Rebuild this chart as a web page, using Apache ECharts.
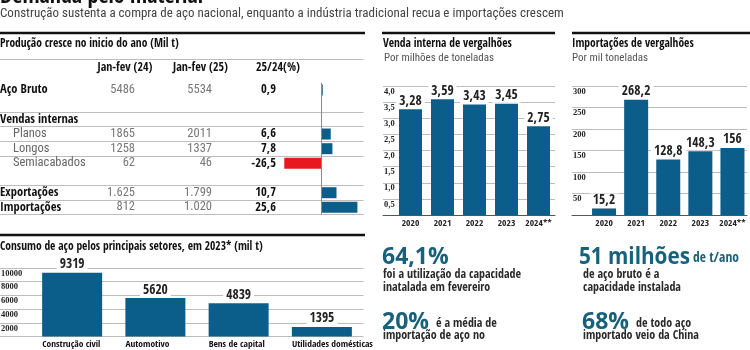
<!DOCTYPE html>
<html>
<head>
<meta charset="utf-8">
<script src="https://cdn.jsdelivr.net/npm/echarts@6/dist/echarts.min.js"></script>
<style>
  html, body { margin: 0; padding: 0; background: #fff; }
  #chart { width: 750px; height: 350px; }
</style>
</head>
<body>
<div id="chart"></div>
<script>
// tabela: produção jan-fev (mil t)
const tableRows = ['Aço Bruto', '', 'Vendas internas', 'Planos', 'Longos', 'Semiacabados', '', 'Exportações', 'Importações'];
const subRows = ['Planos', 'Longos', 'Semiacabados'];
const tableHeaders = ['Jan-fev (24)', 'Jan-fev (25)', '25/24(%)'];
const janFev24 = ['5486', '', '', '1865', '1258', '62', '', '1.625', '812'];
const janFev25 = ['5534', '', '', '2011', '1337', '46', '', '1.799', '1.020'];
const change = [0.9, null, null, 6.6, 7.8, -26.5, null, 10.7, 25.6];

// consumo de aço por setor, 2023 (mil t)
const sectors = ['Construção civil', 'Automotivo', 'Bens de capital', 'Utilidades domésticas'];
const sectorValues = [9319, 5620, 4839, 1395];

// vergalhões
const years = ['2020', '2021', '2022', '2023', '2024**'];
const rebarSales = [3.28, 3.59, 3.43, 3.45, 2.75];
const rebarImports = [15.2, 268.2, 128.8, 148.3, 156];

const BOLD = '"Open Sans Condensed", "Roboto Condensed", sans-serif';
const REG = '"Roboto Condensed", sans-serif';
const SERIF = '"Liberation Serif", "DejaVu Serif", serif';
const BLUE = '#0c5e8a';
const RED = '#e8191e';
const TEAL = '#17617c';
const GRID_GRAY = '#bdbdbd';

const comma = (v) => String(v).replace('.', ',');

const chart = echarts.init(document.getElementById('chart'));

// eixos auxiliares
const hiddenValueX = (gridIndex, line) => ({
  type: 'value', gridIndex, min: 0, max: 1,
  axisLine: { show: !!line, onZero: false, lineStyle: { color: line || '#000', width: 1 } },
  axisTick: { show: false }, axisLabel: { show: false }, splitLine: { show: false }
});
const linesY = (gridIndex, max, interval, fmt) => ({
  type: 'value', gridIndex, min: 0, max, interval,
  axisLine: { show: false }, axisTick: { show: false },
  axisLabel: {
    inside: true, margin: 1, showMinLabel: false, verticalAlign: 'top',
    padding: [1, 0, 0, 0],
    color: '#222', fontFamily: SERIF, fontWeight: 'bold', fontSize: 8.5,
    formatter: fmt
  },
  splitLine: { lineStyle: { color: GRID_GRAY, width: 1 } }
});
const hiddenY = (gridIndex, max) => ({ type: 'value', gridIndex, min: 0, max, show: false });
const yearAxis = (gridIndex) => ({
  type: 'category', gridIndex, data: years,
  axisLine: { show: false }, axisTick: { show: false },
  axisLabel: { interval: 0, margin: 4, color: '#222', fontFamily: BOLD, fontWeight: 'bold', fontSize: 9.5 }
});
const valueLabel = (fmt) => ({
  show: true, position: 'top', distance: 1,
  fontFamily: BOLD, fontWeight: 'bold', fontSize: 13.5, color: '#222',
  backgroundColor: '#fff', padding: [0, 3], formatter: fmt
});
const tableCol = (values, edge, style) => ({
  type: 'category', gridIndex: 0, data: tableRows, inverse: true, position: 'left',
  axisLine: { show: false }, axisTick: { show: false }, splitLine: { show: false },
  axisLabel: Object.assign({ interval: 0, margin: -edge, align: 'right',
    formatter: (v, i) => values[i] == null ? '' : String(values[i]) }, style)
});

const txt = (text, x, y, style, extra) => Object.assign({
  type: 'text', x, y, silent: true,
  style: Object.assign({ text, fill: '#111', fontFamily: REG, verticalAlign: 'middle' }, style)
}, extra || {});
const hline = (x1, x2, y, color, w) => ({
  type: 'line', silent: true,
  shape: { x1, y1: y, x2, y2: y }, style: { stroke: color, lineWidth: w }
});

const titleStyle = { fontFamily: BOLD, fontWeight: 'bold', fontSize: 11.5 };
const headStyle = { fontFamily: BOLD, fontWeight: 'bold', fontSize: 12, align: 'center' };
const noteStyle = { fill: '#555', fontSize: 11 };
const bigStyle = { fill: TEAL, fontFamily: '"Open Sans", sans-serif', fontWeight: 'bold', fontSize: 23 };
const bodyStyle = { fill: '#2a2a2a', fontFamily: BOLD, fontWeight: 'bold', fontSize: 12, lineHeight: 13.5, verticalAlign: 'top' };
const midStyle = { fill: '#2a2a2a', fontFamily: BOLD, fontWeight: 'bold', fontSize: 12 };

const option = {
  animation: false,
  backgroundColor: '#fff',
  grid: [
    { left: 0, right: 386.4, top: 82.7, height: 132, outerBoundsMode: 'none' },   // tabela
    { left: 0, right: 386.5, top: 268, bottom: 13.5, outerBoundsMode: 'none' },   // consumo linhas
    { left: 30.5, right: 386.5, top: 268, bottom: 13.5, outerBoundsMode: 'none' },// consumo barras
    { left: 383, right: 195, top: 86, bottom: 135, outerBoundsMode: 'none' },     // vendas linhas
    { left: 394.5, right: 195.5, top: 86, bottom: 135, outerBoundsMode: 'none' }, // vendas barras
    { left: 572, right: 3, top: 86, bottom: 135, outerBoundsMode: 'none' },       // importações linhas
    { left: 588, right: 1.5, top: 86, bottom: 135, outerBoundsMode: 'none' }      // importações barras
  ],
  xAxis: [
    { type: 'value', gridIndex: 0, min: -229, max: 30,
      axisLine: { show: true, onZero: false, lineStyle: { color: GRID_GRAY } },
      axisTick: { show: false }, axisLabel: { show: false }, splitLine: { show: false } },
    hiddenValueX(1, null),
    { type: 'category', gridIndex: 2, data: sectors,
      axisLine: { show: false }, axisTick: { show: false },
      axisLabel: { interval: 0, margin: 3, formatter: (v) => '{c|' + v + '}',
        rich: { c: { width: 60, align: 'left', color: '#111', fontFamily: BOLD, fontWeight: 'bold', fontSize: 9.5 } } } },
    hiddenValueX(3, '#555'),
    yearAxis(4),
    hiddenValueX(5, '#555'),
    yearAxis(6)
  ],
  yAxis: [
    { type: 'category', gridIndex: 0, data: tableRows, inverse: true, position: 'left',
      axisLine: { show: false }, axisTick: { show: false },
      axisLabel: { interval: 0, margin: 0, align: 'left',
        formatter: (v) => !v ? '' : (subRows.includes(v) ? '{sub|' + v + '}' : '{main|' + v + '}'),
        rich: {
          sub: { color: '#666', fontFamily: REG, fontSize: 12.5, padding: [0, 0, 0, 13] },
          main: { color: '#111', fontFamily: BOLD, fontWeight: 'bold', fontSize: 12.5 }
        } },
      splitLine: { show: true, interval: (i) => [2, 3, 4, 5, 7, 8].includes(i),
        lineStyle: { color: GRID_GRAY, width: 1 } } },
    tableCol(janFev24, 135, { color: '#777', fontFamily: REG, fontSize: 12.5 }),
    tableCol(janFev25, 212, { color: '#777', fontFamily: REG, fontSize: 12.5 }),
    tableCol(change.map((v) => v == null ? null : comma(v)), 276,
      { color: '#111', fontFamily: BOLD, fontWeight: 'bold', fontSize: 12.5 }),
    linesY(1, 10000, 2000, (v) => String(v)),
    hiddenY(2, 10000),
    linesY(3, 4, 0.5, (v) => v.toFixed(1).replace('.', ',')),
    hiddenY(4, 4),
    linesY(5, 300, 50, (v) => String(v)),
    hiddenY(6, 300)
  ],
  series: [
    { type: 'bar', xAxisIndex: 0, yAxisIndex: 0, data: change, barWidth: 11,
      itemStyle: { color: (p) => p.value < 0 ? RED : BLUE },
      markLine: { silent: true, symbol: ['none', 'none'], label: { show: false },
        lineStyle: { color: '#8a8a8a', width: 1, type: 'solid' }, data: [{ xAxis: 0 }] } },
    { type: 'bar', xAxisIndex: 2, yAxisIndex: 5, data: sectorValues, barWidth: 60,
      itemStyle: { color: BLUE }, label: valueLabel((p) => String(p.value)) },
    { type: 'bar', xAxisIndex: 4, yAxisIndex: 7, data: rebarSales, barWidth: 23,
      itemStyle: { color: BLUE }, label: valueLabel((p) => comma(p.value)) },
    { type: 'bar', xAxisIndex: 6, yAxisIndex: 9, data: rebarImports, barWidth: 24,
      itemStyle: { color: BLUE }, label: valueLabel((p) => comma(p.value)) }
  ],
  graphic: [
    txt('Demanda pelo material', 0, 8, { fontFamily: BOLD, fontWeight: 'bold', fontSize: 22, verticalAlign: 'bottom' }),
    txt('Construção sustenta a compra de aço nacional, enquanto a indústria tradicional recua e importações crescem',
      0, 13.5, { fill: '#444', fontSize: 13 }),

    hline(0, 365, 33, '#111', 2.5),
    hline(382, 555, 33, '#111', 2.5),
    hline(572, 750, 33, '#111', 2.5),
    hline(0, 365, 235, '#111', 2.5),
    hline(0, 363.6, 59.5, GRID_GRAY, 1),

    txt('Produção cresce no inicio do ano (Mil t)', 0, 44, titleStyle),
    txt(tableHeaders[0], 125, 68, headStyle),
    txt(tableHeaders[1], 200.5, 68, headStyle),
    txt(tableHeaders[2], 278, 68, headStyle),

    txt('Consumo de aço pelos principais setores, em 2023* (mil t)', 0, 247, titleStyle),

    txt('Venda interna de vergalhões', 383, 44, titleStyle),
    txt('Por milhões de toneladas', 384, 58, noteStyle),
    txt('Importações de vergalhões', 572, 44, titleStyle),
    txt('Por mil toneladas', 572, 58, noteStyle),

    txt('64,1%', 382, 257, bigStyle),
    txt('foi a utilização da capacidade\ninatalada em fevereiro', 383, 268, bodyStyle),
    txt('20%', 382, 322, bigStyle),
    txt('é a média de', 436, 324, midStyle),
    txt('importação de aço no', 383, 329, bodyStyle),

    txt('51 milhões', 579, 257, bigStyle, { scaleX: 0.9 }),
    txt('de t/ano', 693, 258, { fill: TEAL, fontFamily: BOLD, fontWeight: 'bold', fontSize: 13.5 }),
    txt('de aço bruto é a\ncapacidade instalada', 583, 268, bodyStyle),
    txt('68%', 582, 322, bigStyle),
    txt('de todo aço', 636, 324, midStyle),
    txt('importado veio da China', 583, 329, bodyStyle)
  ]
};

chart.setOption(option);
</script>
</body>
</html>
